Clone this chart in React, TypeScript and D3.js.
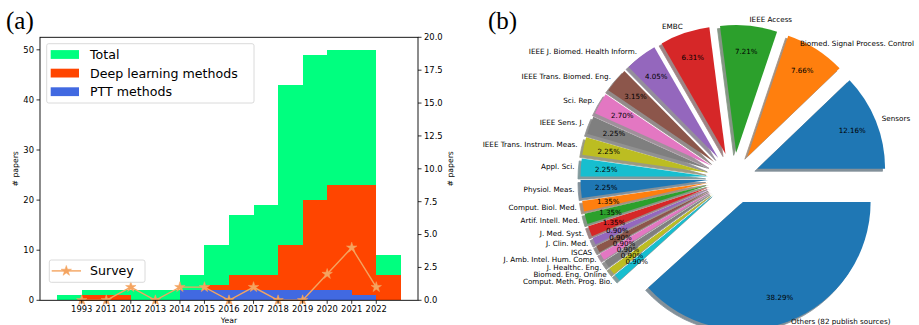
import React from "react";
import * as d3 from "d3";

// ---------- Panel (a) data ----------
const yearLabels = ["1993", "2011", "2012", "2013", "2014", "2015", "2016", "2017", "2018", "2019", "2020", "2021", "2022"];
// bar columns (14), column k spans [k-1, k] in tick-index units
const totalPapers = [1, 2, 2, 2, 2, 5, 11, 17, 19, 43, 49, 50, 50, 9];
const deepPapers = [0, 1, 1, 0, 0, 0, 3, 5, 5, 11, 20, 23, 23, 5];
const pttPapers = [0, 0, 0, 0, 0, 2, 2, 2, 2, 2, 2, 2, 1, 0];
// survey papers per year label (right axis)
const surveyPapers = [0, 0, 1, 0, 1, 1, 0, 1, 0, 0, 2, 4, 1];
const leftTicks = [0, 10, 20, 30, 40, 50];
const rightTicks = [0, 2.5, 5, 7.5, 10, 12.5, 15, 17.5, 20];

// ---------- Panel (b) data ----------
const journals = [
  "Sensors",
  "Biomed. Signal Process. Control",
  "IEEE Access",
  "EMBC",
  "IEEE J. Biomed. Health Inform.",
  "IEEE Trans. Biomed. Eng.",
  "Sci. Rep.",
  "IEEE Sens. J.",
  "IEEE Trans. Instrum. Meas.",
  "Appl. Sci.",
  "Physiol. Meas.",
  "Comput. Biol. Med.",
  "Artif. Intell. Med.",
  "J. Med. Syst.",
  "J. Clin. Med.",
  "ISCAS",
  "J. Amb. Intel. Hum. Comp.",
  "J. Healthc. Eng.",
  "Biomed. Eng. Online",
  "Comput. Meth. Prog. Bio.",
  "Others (82 publish sources)",
];
const journalCounts = [27, 17, 16, 14, 9, 7, 6, 5, 5, 5, 5, 3, 3, 3, 2, 2, 2, 2, 2, 2, 85];
const tab10 = ["#1f77b4", "#ff7f0e", "#2ca02c", "#d62728", "#9467bd", "#8c564b", "#e377c2", "#7f7f7f", "#bcbd22", "#17becf"];

const FONT = "DejaVu Sans, sans-serif";
const W = 919, H = 325;

function measure(text: string, size: number): number {
  try {
    const ctx = document.createElement("canvas").getContext("2d");
    if (ctx) {
      ctx.font = `${size}px "DejaVu Sans"`;
      return ctx.measureText(text).width;
    }
  } catch (e) {}
  return text.length * size * 0.58;
}

function PanelA() {
  const left = 40, right = 418, top = 37.3, bottom = 300.3;
  const x = d3.scaleLinear().domain([-1.7, 13.7]).range([left, right]);
  const yL = d3.scaleLinear().domain([0, 52.5]).range([bottom, top]);
  const yR = d3.scaleLinear().domain([0, 20]).range([bottom, top]);
  const bars = (vals: number[], color: string, key: string) =>
    vals.map((v, k) =>
      v > 0 ? (
        <rect key={key + k} x={x(k - 1)} y={yL(v)} width={x(k) - x(k - 1)} height={yL(0) - yL(v)} fill={color} shapeRendering="crispEdges" />
      ) : null
    );
  const line = d3
    .line<number>()
    .x((_, i) => x(i))
    .y((d) => yR(d));
  const star = d3.symbol().type(d3.symbolStar).size(34)();
  const surveyColor = "#F4A460";
  return (
    <g>
      <text x={6} y={29} fontFamily="Liberation Serif, Times New Roman, serif" fontSize={25}>(a)</text>
      {bars(totalPapers, "#00FF7F", "t")}
      {bars(deepPapers, "#FF4500", "d")}
      {bars(pttPapers, "#4169E1", "p")}
      <path d={line(surveyPapers) || ""} fill="none" stroke={surveyColor} strokeWidth={1.4} />
      {surveyPapers.map((v, i) => (
        <path key={"s" + i} d={star} transform={`translate(${x(i)},${yR(v)})`} fill={surveyColor} stroke={surveyColor} strokeWidth={0.5} />
      ))}
      <rect x={left} y={top} width={right - left} height={bottom - top} fill="none" stroke="#000" strokeWidth={0.9} />
      {leftTicks.map((t) => (
        <g key={"l" + t}>
          <line x1={left - 3.5} x2={left} y1={yL(t)} y2={yL(t)} stroke="#000" strokeWidth={0.8} />
          <text x={left - 6} y={yL(t)} dy="0.35em" textAnchor="end" fontFamily={FONT} fontSize={8.4}>{t}</text>
        </g>
      ))}
      {rightTicks.map((t) => (
        <g key={"r" + t}>
          <line x1={right} x2={right + 3.5} y1={yR(t)} y2={yR(t)} stroke="#000" strokeWidth={0.8} />
          <text x={right + 6} y={yR(t)} dy="0.35em" textAnchor="start" fontFamily={FONT} fontSize={8.4}>{t.toFixed(1)}</text>
        </g>
      ))}
      {yearLabels.map((lab, i) => (
        <g key={"x" + lab}>
          <line x1={x(i)} x2={x(i)} y1={bottom} y2={bottom + 3.5} stroke="#000" strokeWidth={0.8} />
          <text x={x(i)} y={309.5} dy="0.35em" textAnchor="middle" fontFamily={FONT} fontSize={8.4}>{lab}</text>
        </g>
      ))}
      <text x={(left + right) / 2} y={320.7} dy="0.35em" textAnchor="middle" fontFamily={FONT} fontSize={7.7}>Year</text>
      <text transform={`translate(15,${(top + bottom) / 2}) rotate(-90)`} dy="0.35em" textAnchor="middle" fontFamily={FONT} fontSize={7.7}># papers</text>
      <text transform={`translate(450.7,${(top + bottom) / 2}) rotate(-90)`} dy="0.35em" textAnchor="middle" fontFamily={FONT} fontSize={7.7}># papers</text>
      <rect x={46.7} y={43.7} width={207.3} height={59.3} rx={2} fill="#fff" fillOpacity={0.8} stroke="#d0d0d0" strokeWidth={0.8} />
      {[
        ["Total", "#00FF7F"],
        ["Deep learning methods", "#FF4500"],
        ["PTT methods", "#4169E1"],
      ].map(([lab, c], i) => (
        <g key={lab}>
          <rect x={50.7} y={54.5 + i * 18.6 - 4.4} width={28.3} height={8.8} fill={c} />
          <text x={90} y={54.5 + i * 18.6} dy="0.35em" fontFamily={FONT} fontSize={12.6}>{lab}</text>
        </g>
      ))}
      <rect x={49.3} y={260} width={95.7} height={22.3} rx={2} fill="#fff" fillOpacity={0.8} stroke="#d0d0d0" strokeWidth={0.8} />
      <line x1={51.7} x2={81} y1={270.9} y2={270.9} stroke={surveyColor} strokeWidth={1.4} />
      <path d={star} transform="translate(66.3,270.9)" fill={surveyColor} stroke={surveyColor} strokeWidth={0.5} />
      <text x={90} y={270.9} dy="0.35em" fontFamily={FONT} fontSize={12.6}>Survey</text>
    </g>
  );
}

function PanelB() {
  const cx = 733.7, cy = 178.2, R = 127.7;
  const explode = 0.2, labelDist = 1.05, pctDist = 0.8, shadowOff = 0.02;
  const labelSize = 7.2;
  const total = d3.sum(journalCounts);
  const pie = d3
    .pie<number>()
    .sort(null)
    .startAngle(Math.PI / 2)
    .endAngle(Math.PI / 2 - 2 * Math.PI);
  const arcs = pie(journalCounts);
  const arc = d3.arc<d3.PieArcDatum<number>>().innerRadius(0).outerRadius(R);
  const items = arcs.map((a, i) => {
    const mid = (a.startAngle + a.endAngle) / 2;
    const ux = Math.sin(mid), uy = -Math.cos(mid);
    const ox = cx + explode * R * ux, oy = cy + explode * R * uy;
    return { a, i, ux, uy, ox, oy, color: tab10[i % 10] };
  });
  return (
    <g>
      <text x={488} y={29} fontFamily="Liberation Serif, Times New Roman, serif" fontSize={25}>(b)</text>
      {items.map(({ a, i, ox, oy, color }) => {
        const c = d3.rgb(color);
        const sc = d3.rgb(c.r * 0.3, c.g * 0.3, c.b * 0.3);
        return (
          <path key={"sh" + i} d={arc(a) || ""} transform={`translate(${ox - shadowOff * R},${oy + shadowOff * R})`} fill={sc.toString()} stroke={sc.toString()} strokeWidth={0.8} opacity={0.5} />
        );
      })}
      {items.map(({ a, i, ox, oy, color }) => (
        <path key={"w" + i} d={arc(a) || ""} transform={`translate(${ox},${oy})`} fill={color} />
      ))}
      {items.map(({ i, ux, uy, ox, oy }) => {
        let lx = ox + labelDist * R * ux;
        const ly = Math.min(oy + labelDist * R * uy, H - 4);
        const anchorStart = ux > 0;
        if (anchorStart) {
          const w = measure(journals[i], labelSize);
          lx = Math.min(lx, W - 5 - w);
        }
        return (
          <text key={"lab" + i} x={lx} y={ly} dy="0.35em" textAnchor={anchorStart ? "start" : "end"} fontFamily={FONT} fontSize={labelSize} fill="#000">
            {journals[i]}
          </text>
        );
      })}
      {items.map(({ i, ux, uy, ox, oy }) => (
        <text key={"pct" + i} x={ox + pctDist * R * ux} y={oy + pctDist * R * uy} dy="0.35em" textAnchor="middle" fontFamily={FONT} fontSize={7.1} fill="#000">
          {((journalCounts[i] / total) * 100).toFixed(2) + "%"}
        </text>
      ))}
    </g>
  );
}

export default function App() {
  return (
    <svg width={W} height={H} style={{ position: "absolute", left: 0, top: 0, background: "#fff" }}>
      <rect width={W} height={H} fill="#fff" />
      <PanelA />
      <PanelB />
    </svg>
  );
}
